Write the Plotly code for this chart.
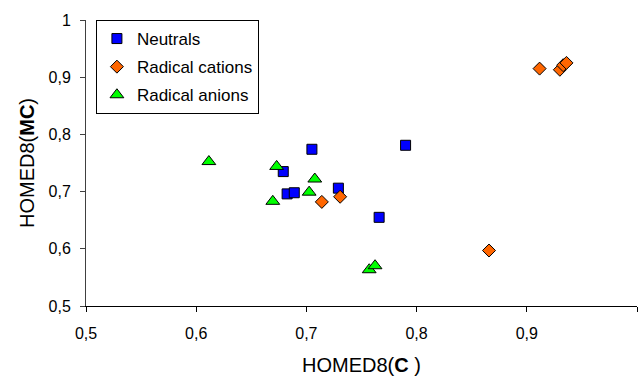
import plotly.graph_objects as go

neutral_x = [0.705, 0.679, 0.6825, 0.689, 0.729, 0.766, 0.790]
neutral_y = [0.774, 0.735, 0.696, 0.698, 0.706, 0.655, 0.781]

cation_x = [0.714, 0.7306, 0.8657, 0.9116, 0.930, 0.933, 0.936]
cation_y = [0.682, 0.691, 0.597, 0.915, 0.913, 0.921, 0.925]

anion_x = [0.6115, 0.673, 0.7076, 0.7025, 0.6695, 0.757, 0.7623]
anion_y = [0.7525, 0.744, 0.722, 0.699, 0.683, 0.5634, 0.5704]

tick_vals = [0.5, 0.6, 0.7, 0.8, 0.9, 1]
tick_text = ["0,5", "0,6", "0,7", "0,8", "0,9", "1"]

FONT = "Liberation Sans, Arial, sans-serif"

fig = go.Figure()
fig.add_trace(go.Scatter(x=neutral_x, y=neutral_y, mode="markers", name="Neutrals",
                         legendgroup="a",
                         marker=dict(symbol="square", size=10, color="#0000FF",
                                     line=dict(color="black", width=1))))
fig.add_trace(go.Scatter(x=cation_x, y=cation_y, mode="markers", name="Radical cations",
                         legendgroup="b",
                         marker=dict(symbol="diamond", size=10, color="#FF6600",
                                     line=dict(color="black", width=1))))
fig.add_trace(go.Scatter(x=anion_x, y=anion_y, mode="markers", name="Radical anions",
                         legendgroup="c",
                         marker=dict(symbol="triangle-up", size=12, color="#00FF00",
                                     line=dict(color="black", width=1))))

fig.update_layout(
    width=641, height=379,
    margin=dict(l=86, r=4, t=20, b=73),
    paper_bgcolor="white", plot_bgcolor="white",
    separators=", ",
    font=dict(family=FONT, size=16, color="black"),
    showlegend=True,
    legend=dict(x=0.018, y=1, xanchor="left", yanchor="top",
                bgcolor="white", bordercolor="black", borderwidth=1,
                font=dict(size=17), itemwidth=30, tracegroupgap=3),
    xaxis=dict(range=[0.5, 1], tickvals=tick_vals, ticktext=tick_text,
               showgrid=False, zeroline=False, showline=True, linecolor="black",
               linewidth=1, ticks="outside", ticklen=5, tickcolor="black",
               ticklabelstandoff=8,
               title=dict(text="HOMED8(<b>C</b> )", font=dict(size=20), standoff=16)),
    yaxis=dict(range=[0.5, 1], tickvals=tick_vals, ticktext=tick_text,
               showgrid=False, zeroline=False, showline=True, linecolor="#404040",
               linewidth=1, ticks="outside", ticklen=5, tickcolor="#404040",
               ticklabelstandoff=6,
               title=dict(text="HOMED8(<b>MC</b>)", font=dict(size=20), standoff=8)),
)

fig.write_html("out.html")
